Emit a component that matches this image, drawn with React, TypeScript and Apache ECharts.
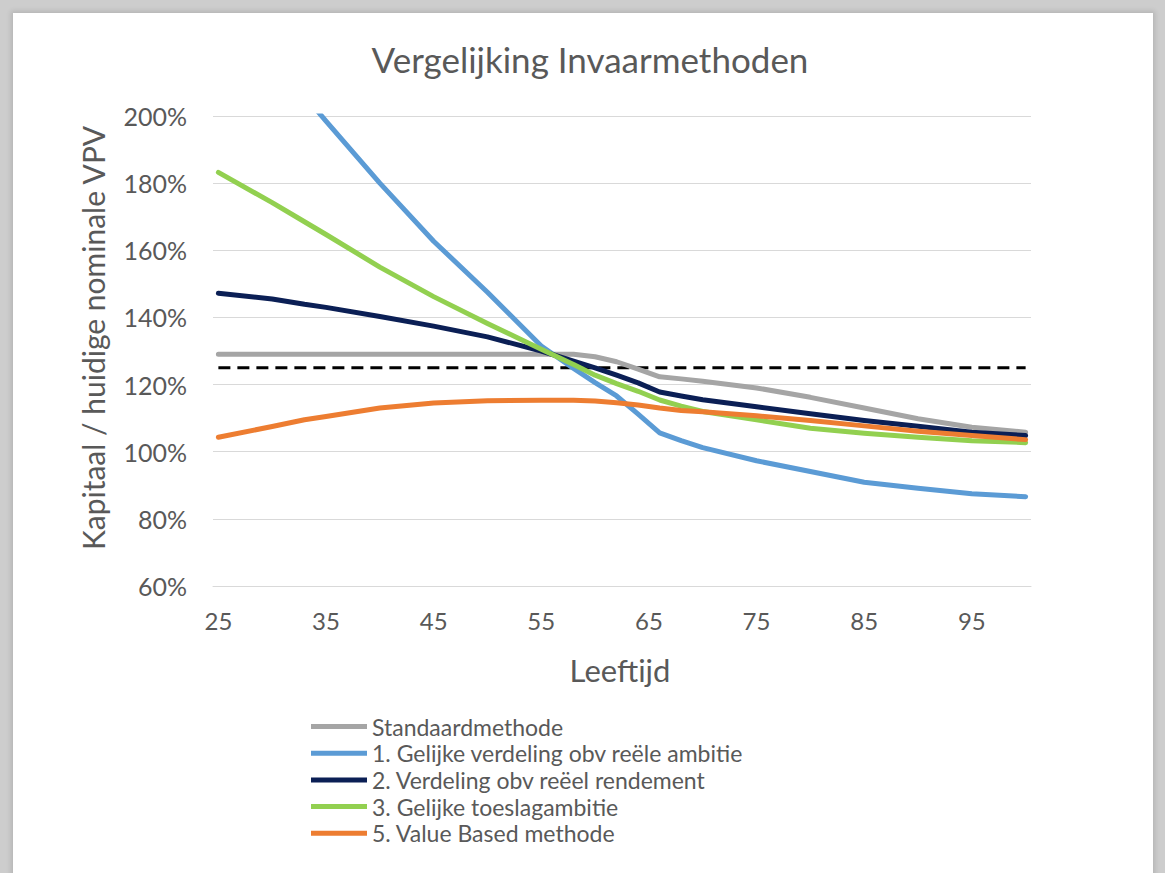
import React, { useEffect, useRef } from 'react';
import * as echarts from 'echarts';

// Ages (x values) at which each series value was read
const ages = [25, 30, 33, 35, 40, 45, 50, 55, 58, 60, 62, 64, 66, 68, 70, 75, 80, 85, 90, 95, 100];

// Values in % of current nominal VPV
const standaardmethode = [129, 129, 129, 129, 129, 129, 129, 129, 129, 128.3, 126.8, 124.6, 122.3, 121.7, 121, 119, 116.2, 113, 109.8, 107.3, 105.8];
const gelijkeVerdeling = [null, null, 206, 198.5, 180, 162.7, 147.5, 131.5, 124.8, 120.6, 116.6, 111.2, 105.6, 103.3, 101.2, 97.3, 94.1, 90.9, 89.1, 87.5, 86.6];
const verdelingRendement = [147.2, 145.5, 143.9, 143, 140.3, 137.4, 134.2, 130, 127, 125, 122.8, 120.5, 117.8, 116.6, 115.5, 113.4, 111.3, 109.3, 107.6, 105.8, 104.8];
const toeslagambitie = [183.2, 174.2, 168.5, 164.7, 155, 146.2, 138.2, 130.5, 126, 122.8, 120.3, 118, 115.4, 113.6, 112, 109.5, 107, 105.5, 104.3, 103.3, 102.7];
const valueBased = [104.3, 107.5, 109.5, 110.5, 113, 114.5, 115.2, 115.3, 115.3, 115.1, 114.6, 113.9, 113, 112.3, 111.9, 110.7, 109.3, 107.7, 106.1, 104.8, 103.6];

// Reference level (dashed line)
const referenceAges = [25, 100];
const referenceLevel = [125, 125];

const seriesNames = [
  'Standaardmethode',
  '1. Gelijke verdeling obv reële ambitie',
  '2. Verdeling obv reëel rendement',
  '3. Gelijke toeslagambitie',
  '5. Value Based methode',
];
const seriesValues = [standaardmethode, gelijkeVerdeling, verdelingRendement, toeslagambitie, valueBased];
const seriesColors = ['#A5A5A5', '#5B9BD5', '#0B1F55', '#92D050', '#ED7D31'];

// Category tick labels of the x axis (ages 25..100)
const ageCategories = Array.from({ length: 76 }, (_, i) => String(25 + i));

const titleText = 'Vergelijking Invaarmethoden';
const yAxisName = 'Kapitaal / huidige nominale VPV';
const xAxisName = 'Leeftijd';

const FONT = 'Lato, "Open Sans", sans-serif';
const TEXT_COLOR = '#595959';

export default function App() {
  const ref = useRef<HTMLDivElement>(null);

  useEffect(() => {
    if (!ref.current) return;
    const chart = echarts.init(ref.current, undefined, { renderer: 'svg' });

    const lineSeries = seriesNames.map((name, si) => ({
      name,
      type: 'line',
      xAxisIndex: 1,
      yAxisIndex: 0,
      showSymbol: false,
      symbol: 'none',
      connectNulls: false,
      clip: true,
      color: seriesColors[si],
      lineStyle: { width: 5, color: seriesColors[si], cap: 'round', join: 'round' },
      data: ages.map((a, i) => [a, seriesValues[si][i]]),
      z: 3 + si,
    }));

    const option: any = {
      animation: false,
      textStyle: { fontFamily: FONT },
      grid: { left: 213, right: 134, top: 116, bottom: 287, containLabel: false },
      xAxis: [
        {
          type: 'category',
          data: ageCategories,
          boundaryGap: true,
          axisTick: { show: false },
          axisLine: { show: true, lineStyle: { color: '#d9d9d9', width: 1 } },
          axisLabel: { interval: 9, fontSize: 24, color: TEXT_COLOR, fontFamily: FONT, margin: 22 },
          splitLine: { show: false },
        },
        {
          type: 'value',
          min: 24.5,
          max: 100.5,
          show: false,
          splitLine: { show: false },
        },
      ],
      yAxis: {
        type: 'value',
        min: 60,
        max: 200,
        interval: 20,
        axisLine: { show: false },
        axisTick: { show: false },
        axisLabel: { formatter: '{value}%', fontSize: 25, color: TEXT_COLOR, fontFamily: FONT, margin: 26 },
        splitLine: { lineStyle: { color: '#d9d9d9', width: 1 } },
      },
      legend: {
        orient: 'vertical',
        left: 311,
        top: 715,
        padding: 0,
        itemWidth: 56,
        itemHeight: 5,
        itemGap: 3.7,
        icon: 'rect',
        data: seriesNames,
        textStyle: { fontSize: 23, lineHeight: 23, color: TEXT_COLOR, fontFamily: FONT },
      },
      graphic: [
        {
          type: 'text',
          x: 590,
          y: 59,
          style: {
            text: titleText,
            font: `35px ${FONT}`,
            fill: TEXT_COLOR,
            align: 'center',
            verticalAlign: 'middle',
            textAlign: 'center',
            textVerticalAlign: 'middle',
          },
        },
        {
          type: 'text',
          x: 93,
          y: 338,
          rotation: Math.PI / 2,
          style: {
            text: yAxisName,
            font: `30px ${FONT}`,
            fill: TEXT_COLOR,
            align: 'center',
            verticalAlign: 'middle',
            textAlign: 'center',
            textVerticalAlign: 'middle',
          },
        },
        {
          type: 'text',
          x: 620,
          y: 670,
          style: {
            text: xAxisName,
            font: `31px ${FONT}`,
            fill: TEXT_COLOR,
            align: 'center',
            verticalAlign: 'middle',
            textAlign: 'center',
            textVerticalAlign: 'middle',
          },
        },
      ],
      series: [
        {
          name: 'Referentie',
          type: 'line',
          xAxisIndex: 1,
          yAxisIndex: 0,
          symbol: 'none',
          showSymbol: false,
          silent: true,
          color: '#000000',
          lineStyle: { width: 3, color: '#000000', type: [12, 7] },
          data: referenceAges.map((a, i) => [a, referenceLevel[i]]),
          z: 2,
        },
        ...lineSeries,
      ],
    };

    chart.setOption(option);
    return () => chart.dispose();
  }, []);

  return (
    <div
      style={{
        position: 'fixed',
        left: 0,
        top: 0,
        width: 1165,
        height: 873,
        background: '#cdcdcd',
        overflow: 'hidden',
      }}
    >
      <div
        style={{
          position: 'absolute',
          left: 13,
          top: 13,
          width: 1140,
          height: 880,
          background: '#ffffff',
          boxShadow: '0 0 5px 2px rgba(0,0,0,0.12)',
        }}
      />
      <div ref={ref} style={{ position: 'absolute', left: 0, top: 0, width: 1165, height: 873 }} />
    </div>
  );
}
